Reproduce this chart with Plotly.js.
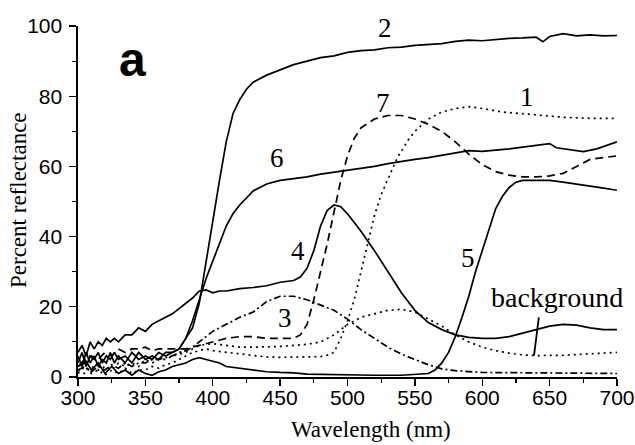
<!DOCTYPE html>
<html><head><meta charset="utf-8">
<script src="https://cdn.plot.ly/plotly-3.0.1.min.js"></script>
<style>html,body{margin:0;padding:0;background:#fff}#chart{width:635px;height:445px}</style>
</head><body><div id="chart"></div>
<script>
// Curve 1 (dotted)
const wl1 = [300,305,310,315,320,325,330,335,340,345,350,355,360,365,370,375,380,385,390,395,400,410,420,430,440,450,460,470,480,485,490,495,500,505,510,515,520,525,530,537,545,550,560,570,580,590,600,615,630,645,660,680,700];
const r1  = [1,3,1,2,0.5,2,1,2.5,1,2,2,3,2.5,3.5,4,5,6,7,7.5,8,7.5,7,6.5,6,5.7,5.6,5.6,5.6,5.8,6.2,7,11,16,22,30,38,46,52,56.5,62.5,67.5,70,73.5,75.5,76.5,77,76.5,75.5,75,74.5,74,73.7,73.7];
// Curve 2 (solid)
const wl2 = [300,303,306,309,312,315,318,321,324,327,330,335,340,345,350,355,360,365,370,375,380,385,390,395,400,405,410,415,420,425,430,440,450,460,470,480,490,500,510,520,530,540,550,560,570,580,590,600,610,620,630,640,645,650,660,670,680,690,700];
const r2  = [6,3,7,4,6,3,5,4,7,4,6,4,7,5,6,5,7,6,7,8,11,14,21,33,45,56,67,75,79,82,84,86,87.5,89,90,91,91.5,92.5,93,93.2,93.8,94,94.5,94.8,95,95.6,96,95.8,96.2,96.5,96.6,96.8,95.5,97,97.8,97.2,97.5,97.2,97.3];
// Curve 3 (dash-dot)
const wl3 = [300,305,310,315,320,325,330,335,340,345,350,355,360,365,370,375,380,385,390,395,400,410,420,430,440,450,460,470,480,490,500,510,520,530,540,550,560,570,580,600,650,700];
const r3  = [2,3,1.5,3,2,3.5,2.5,4,3,4,4,5,5,5.5,6,7,7.5,8.5,10,11.5,13,15,17,18.5,21.5,23,23,22,20.5,19,16.5,13.5,11,8.5,6.5,5,3.5,2.3,1.8,1.3,1.1,1.0];
// Curve 4 (solid)
const wl4 = [300,303,306,309,312,315,318,321,324,327,330,335,340,345,350,355,360,365,370,375,380,385,390,395,400,405,410,420,430,440,450,460,465,470,475,480,485,490,495,500,505,510,520,530,540,550,560,570,580,590,600,610,620,630,640,650,660,670,680,690,700];
const r4  = [7,9,6,10,8,10,9,11,10,11,10,12,12,14,13,15,16,17,18,19.5,21,22.5,24.5,24.8,24,24.5,24.5,25.2,25.5,26,27,27.5,28.5,31,36,43,47.5,49,48.5,46.5,44,41.5,36,30,24,19,15.5,13.5,12,11.3,11,11,11.5,12.5,13.5,14.5,15,14.8,14,13.5,13.5];
// Curve 5 (solid)
const wl5 = [300,305,310,315,320,325,330,335,340,345,350,355,360,365,370,375,380,385,390,395,400,405,410,420,430,440,450,460,470,480,500,520,540,555,560,565,570,575,580,585,590,595,600,605,610,615,620,625,630,640,650,660,670,680,690,700];
const r5  = [3,5,2,4,1,3,1,2,0.5,2,1,0.5,1.5,2,3,3.5,4,5,5.5,5,4.5,4,3,2.5,2,1.5,1.3,1.2,0.8,0.7,0.6,0.5,0.5,0.8,1,2,4,7,11.5,17,23,30,36,42,48,51.5,54,55.5,56,56,56,55.5,55,54.5,53.8,53.2];
// Curve 6 (solid)
const wl6 = [300,303,306,309,312,315,318,321,324,327,330,335,340,345,350,355,360,365,370,375,380,385,390,395,400,405,410,415,420,425,430,440,450,460,470,480,490,500,510,520,530,540,550,560,570,580,590,600,610,620,630,640,650,655,665,675,685,700];
const r6  = [4,7,3,6,5,7,4,6,5,7,5,6,4,7,5,6,5,7,7,8,11,16,22,28,33,38,43,46.5,49,51,53,55,56,56.5,57,57.8,58.3,59,59.5,60,60.8,61.5,62,62.5,63.2,63.8,64.5,64.3,64.6,65,65.5,66,66.5,65.3,64.8,64.2,65,67];
// Curve 7 (dashed)
const wl7 = [300,305,310,315,320,325,330,335,340,345,350,355,360,365,370,380,390,400,410,420,430,440,450,460,465,470,475,480,485,490,495,500,505,510,520,530,540,550,560,570,580,590,600,610,620,630,640,650,660,670,680,690,700];
const r7  = [3,4,6,5,7,6,8,7,8,8,8.5,7.5,8,8,8,8,9,10,11,11.5,11.5,11,11,11,12,15,22,30,38,47,56,63,68,71,73.5,74.5,74.5,73.5,72,70,67,63.5,60.5,58.5,57.5,57,57,57.3,58,60,62,62.5,63];
// Background (dotted)
const wlB = [300,305,310,315,320,325,330,335,340,345,350,355,360,365,370,375,380,385,390,400,410,420,430,440,450,460,470,480,490,500,510,520,530,540,550,560,570,580,590,600,610,620,630,640,660,680,700];
const rB  = [2,1,3,2,3,2,4,3,4,3,5,4,5,5,6,6.5,7,8,9,9.5,9,8.5,8.5,8.5,8.7,9,9.3,10,12,15,17,18,19,19.3,18.5,16.5,14.5,12,10,8.5,7.5,6.8,6.3,6.1,6.2,6.6,7];

const xTickVals = [300,350,400,450,500,550,600,650,700];
const yTickVals = [0,20,40,60,80,100];

function tr(x, y, dash) {
  return {x: x, y: y, type: 'scatter', mode: 'lines',
    line: {color: '#000', width: 1.7, dash: dash}, hoverinfo: 'skip', showlegend: false};
}
const DOT = '2px,4px', DASH = '8px,5px', DASHDOT = '7px,3px,2px,3px';
const data = [
  tr(wl2, r2, 'solid'), tr(wl6, r6, 'solid'), tr(wl4, r4, 'solid'), tr(wl5, r5, 'solid'),
  tr(wl7, r7, DASH), tr(wl1, r1, DOT), tr(wlB, rB, DOT), tr(wl3, r3, DASHDOT)
];

const serif = 'Liberation Serif, Times New Roman, serif';
const sans = 'Liberation Sans, Arial, sans-serif';
function lab(x, y, t, size) {
  return {x: x, y: y, xref: 'x', yref: 'y', text: t, showarrow: false,
    font: {family: serif, size: size || 27, color: '#000'}};
}

const layout = {
  width: 635, height: 445,
  margin: {l: 78, r: 18, t: 26, b: 68},
  paper_bgcolor: '#fff', plot_bgcolor: '#fff',
  xaxis: {
    range: [300, 700], tickvals: xTickVals, ticks: 'outside', ticklen: 7, tickwidth: 1.3,
    tickcolor: '#000', showline: true, linecolor: '#000', linewidth: 1.6, showgrid: false,
    zeroline: false, tickfont: {family: sans, size: 21, color: '#000'}, ticklabelstandoff: -6,
    minor: {dtick: 25, tick0: 300, ticks: 'outside', ticklen: 4, tickcolor: '#000', tickwidth: 1.2, showgrid: false}
  },
  yaxis: {
    range: [0, 100], tickvals: yTickVals, ticks: 'outside', ticklen: 7, tickwidth: 1.3,
    tickcolor: '#000', showline: true, linecolor: '#000', linewidth: 1.6, showgrid: false,
    zeroline: false, tickfont: {family: sans, size: 21, color: '#000'}, ticklabelstandoff: 3,
    minor: {dtick: 10, tick0: 0, ticks: 'outside', ticklen: 4, tickcolor: '#000', tickwidth: 1.2, showgrid: false}
  },
  annotations: [
    lab(528, 99.4, '2'), lab(448, 62.3, '6'), lab(526, 78, '7'), lab(633, 79.7, '1'),
    lab(463, 36, '4'), lab(453.6, 16.7, '3'), lab(589.4, 33.8, '5'), lab(655.5, 22.7, 'background', 28),
    {x: 340.8, y: 90.5, xref: 'x', yref: 'y', text: '<b>a</b>', showarrow: false,
     font: {family: sans, size: 48, color: '#000'}},
    {x: 0, y: 0, xref: 'paper', yref: 'paper', xanchor: 'center', yanchor: 'middle',
     text: 'Wavelength (nm)', showarrow: false, font: {family: serif, size: 23, color: '#000'}},
    {x: 0, y: 0, xref: 'paper', yref: 'paper', xanchor: 'center', yanchor: 'middle',
     text: 'Percent reflectance', textangle: -90, showarrow: false, font: {family: serif, size: 23, color: '#000'}}
  ],
  shapes: [
    {type: 'line', xref: 'x', yref: 'y', x0: 642, y0: 17, x1: 638.4, y1: 6.1, line: {color: '#000', width: 1.8}}
  ]
};
// axis title annotations positioned in paper coords
layout.annotations[9].x = (371 - 78) / (635 - 78 - 18);
layout.annotations[9].y = -(429 - 377) / (377 - 26);
layout.annotations[10].x = -(78 - 18) / (635 - 78 - 18);
layout.annotations[10].y = (377 - 200) / (377 - 26);

Plotly.newPlot('chart', data, layout, {displayModeBar: false, staticPlot: true});
</script></body></html>
